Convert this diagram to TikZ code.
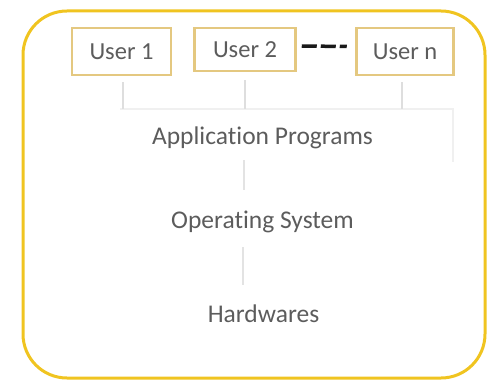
\documentclass[tikz,border=0pt]{standalone}
\usepackage{fontspec}
\setmainfont{Carlito}[Ligatures=NoCommon]
\definecolor{gold}{RGB}{240,196,32}
\definecolor{tan}{RGB}{228,200,128}
\definecolor{ink}{RGB}{92,92,92}
\begin{document}
    \begin{tikzpicture}[x=1pt,y=-1pt,
            user/.style={draw=tan,line width=2.5pt,fill=white,minimum width=99pt,minimum height=47pt,inner sep=0pt,text=ink,font=\fontsize{24.5}{28}\selectfont},
            layer/.style={anchor=base,inner sep=0pt,text height=16pt,text depth=6pt,text=ink,font=\fontsize{25.5}{30}\selectfont},
            stub/.style={draw=black!13,line width=1.2pt},
            link/.style={draw=black!11,line width=1.5pt}]
        \useasboundingbox (0,0) rectangle (487,382);
        \draw[gold,line width=3pt,rounded corners=44pt] (23,11) rectangle (485,378);
        \node[user] (user1) at (121.5,51.5) {User 1};
        \node[user,minimum width=101pt,minimum height=43pt] (user2) at (245,49.5) {User 2};
        \node[user,minimum width=97pt] (usern) at (405,51.5) {User n};
        \draw[black!90,line width=3.5pt,dash pattern=on 15pt off 4pt on 15pt off 4pt on 7pt off 20pt]
            ([shift={(5pt,3.5pt)}]user2.east) -- ([shift={(-8pt,5pt)}]usern.west);
        \node[layer] (app) at (262.5,145) {Application Programs};
        \node[layer] (os) at (262.5,228) {Operating System};
        \node[layer] (hw) at (263.5,322) {Hardwares};
        \coordinate (apptop) at (120,109);
        \draw[black!6,line width=1.2pt] (apptop) -- (453,109) -- (453,162);
        \draw[stub] ([shift={(1.5pt,-6pt)}]user1.south) -- ([xshift=1.5pt]user1.south |- apptop);
        \draw[stub] ([yshift=-8pt]user2.south) -- (user2.south |- apptop);
        \draw[stub] ([shift={(-3pt,-6pt)}]usern.south) -- ([xshift=-3pt]usern.south |- apptop);
        \draw[link] ([shift={(-18.5pt,-9pt)}]app.south) -- ([shift={(-18.5pt,22pt)}]os.north);
        \draw[link] ([shift={(-19.5pt,-13pt)}]os.south) -- ([shift={(-20.5pt,21pt)}]hw.north);
    \end{tikzpicture}
\end{document}
